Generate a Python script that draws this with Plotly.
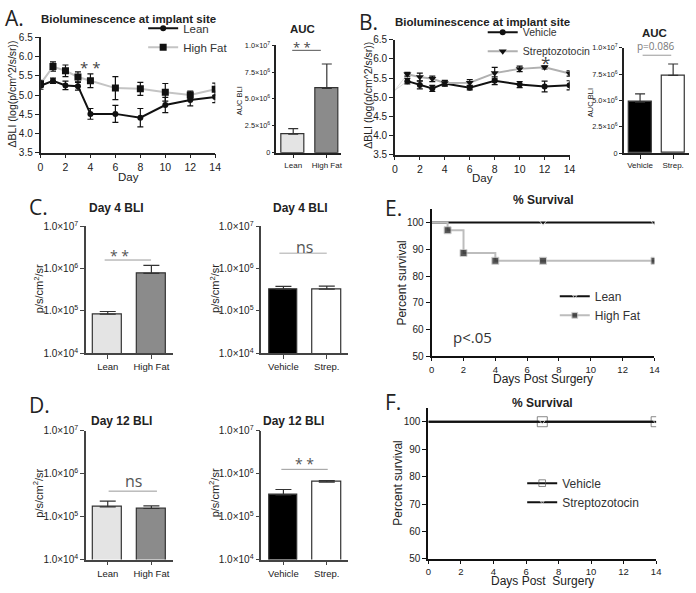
import plotly.graph_objects as go

W, H = 696, 593

# ---------------- data ----------------
days_a = [0, 1, 2, 3, 4, 6, 8, 10, 12, 14]
lean_bli = [5.24, 5.37, 5.25, 5.23, 4.51, 4.51, 4.41, 4.74, 4.87, 4.95]
lean_sem = [0.09, 0.07, 0.11, 0.10, 0.14, 0.22, 0.24, 0.20, 0.15, 0.15]
hf_bli = [5.29, 5.74, 5.63, 5.47, 5.37, 5.18, 5.16, 5.07, 5.00, 5.15]
hf_sem = [0.09, 0.12, 0.15, 0.13, 0.18, 0.30, 0.17, 0.23, 0.10, 0.16]

days_b = [1, 2, 3, 4, 6, 8, 10, 12, 14]
veh_bli = [5.42, 5.32, 5.23, 5.36, 5.25, 5.43, 5.33, 5.28, 5.31]
veh_sem = [0.07, 0.10, 0.08, 0.07, 0.06, 0.10, 0.08, 0.14, 0.12]
stz_bli = [5.60, 5.53, 5.48, 5.37, 5.38, 5.63, 5.74, 5.78, 5.62]
stz_sem = [0.05, 0.10, 0.07, 0.07, 0.08, 0.15, 0.07, 0.04, 0.07]
b_day0 = 5.18

diet_groups = ["Lean", "High Fat"]
drug_groups = ["Vehicle", "Strep."]

auc_diet = [1.73e6, 5.97e6]
auc_diet_sem = [0.52e6, 2.28e6]
auc_drug = [4.83e6, 7.37e6]
auc_drug_sem = [0.80e6, 1.09e6]

day4_diet = [8.4e4, 7.7e5]
day4_diet_sem = [1.3e4, 4.2e5]
day4_drug = [3.3e5, 3.3e5]
day4_drug_sem = [0.5e5, 0.55e5]

day12_diet = [1.69e5, 1.55e5]
day12_diet_sem = [0.61e5, 0.23e5]
day12_drug = [3.2e5, 6.4e5]
day12_drug_sem = [1.1e5, 0.5e5]

surv_lean_days = [0, 7, 14]
surv_lean = [100, 100, 100]
surv_hf_days = [0, 1, 2, 4, 7, 14]
surv_hf = [100, 97.1, 88.6, 85.7, 85.7, 85.7]
surv_veh_days = [0, 7, 14]
surv_veh = [100, 100, 100]
surv_stz_days = [0, 7, 14]
surv_stz = [100, 100, 100]

log_ticks = [1e4, 1e5, 1e6, 1e7]
log_ticktext = ["1.0×10<sup>4</sup>", "1.0×10<sup>5</sup>", "1.0×10<sup>6</sup>", "1.0×10<sup>7</sup>"]
auc_ticks = [0, 2.5e6, 5e6, 7.5e6, 1e7]
auc_ticktext = ["0", "2.5×10<sup>6</sup>", "5.0×10<sup>6</sup>", "7.5×10<sup>6</sup>", "1.0×10<sup>7</sup>"]

# colours
C_LEAN = "#e4e4e4"
C_HF = "#8b8b8b"
C_VEH = "#000000"
C_STZ = "#ffffff"

FONT = "Liberation Sans, Arial, sans-serif"
LIGHT = "Open Sans, sans-serif"


def dx(a, b):
    return [a / W, b / W]


def dy(top, bottom):
    return [1 - bottom / H, 1 - top / H]


def px(x):
    return x / W


def py(y):
    return 1 - y / H


fig = go.Figure()

err_style = dict(color="#111", thickness=1.2, width=3)

# ---------- A line ----------
fig.add_trace(go.Scatter(x=days_a, y=lean_bli, name="Lean", mode="lines+markers",
                         line=dict(color="#111", width=2),
                         marker=dict(symbol="circle", size=6, color="#111"),
                         error_y=dict(type="data", array=lean_sem, **err_style),
                         xaxis="x", yaxis="y", legend="legend"))
fig.add_trace(go.Scatter(x=days_a, y=hf_bli, name="High Fat", mode="lines+markers",
                         line=dict(color="#c4c4c4", width=2),
                         marker=dict(symbol="square", size=7, color="#111"),
                         error_y=dict(type="data", array=hf_sem, **err_style),
                         xaxis="x", yaxis="y", legend="legend"))

# ---------- B line ----------
fig.add_trace(go.Scatter(x=[0, days_b[0], None, 0, days_b[0]],
                         y=[b_day0, veh_bli[0], None, b_day0, stz_bli[0]],
                         mode="lines", line=dict(color="#dddddd", width=1),
                         showlegend=False, hoverinfo="skip", xaxis="x3", yaxis="y3"))
fig.add_trace(go.Scatter(x=days_b, y=veh_bli, name="Vehicle", mode="lines+markers",
                         line=dict(color="#111", width=2),
                         marker=dict(symbol="circle", size=6, color="#111"),
                         error_y=dict(type="data", array=veh_sem, **err_style),
                         xaxis="x3", yaxis="y3", legend="legend2"))
fig.add_trace(go.Scatter(x=days_b, y=stz_bli, name="Streptozotocin", mode="lines+markers",
                         line=dict(color="#b0b0b0", width=2),
                         marker=dict(symbol="triangle-down", size=7, color="#111"),
                         error_y=dict(type="data", array=stz_sem, **err_style),
                         xaxis="x3", yaxis="y3", legend="legend2"))

bar_line = dict(color="#333", width=1.2)
bar_err = dict(type="data", symmetric=False, color="#333", thickness=1.2)


def add_bars(groups, vals, sems, colors, xa, ya, width, errw):
    fig.add_trace(go.Bar(x=groups, y=vals, width=width,
                         marker=dict(color=colors, line=bar_line),
                         error_y=dict(array=sems, arrayminus=[0] * len(sems), width=errw, **bar_err),
                         showlegend=False, xaxis=xa, yaxis=ya))


add_bars(diet_groups, auc_diet, auc_diet_sem, [C_LEAN, C_HF], "x2", "y2", 0.68, 5)
add_bars(drug_groups, auc_drug, auc_drug_sem, [C_VEH, C_STZ], "x4", "y4", 0.69, 5)
add_bars(diet_groups, day4_diet, day4_diet_sem, [C_LEAN, C_HF], "x5", "y5", 0.66, 8)
add_bars(drug_groups, day4_drug, day4_drug_sem, [C_VEH, C_STZ], "x6", "y6", 0.66, 8)
add_bars(diet_groups, day12_diet, day12_diet_sem, [C_LEAN, C_HF], "x7", "y7", 0.66, 8)
add_bars(drug_groups, day12_drug, day12_drug_sem, [C_VEH, C_STZ], "x8", "y8", 0.66, 8)

# ---------- E survival ----------
fig.add_trace(go.Scatter(x=surv_lean_days, y=surv_lean, name="Lean", mode="lines+markers",
                         line=dict(color="#111", width=2, shape="hv"),
                         marker=dict(symbol="triangle-down", size=[0, 6, 6], color="#111"),
                         xaxis="x9", yaxis="y9", legend="legend3"))
fig.add_trace(go.Scatter(x=surv_hf_days, y=surv_hf, name="High Fat", mode="lines+markers",
                         line=dict(color="#bdbdbd", width=2, shape="hv"),
                         marker=dict(symbol="square", size=[0, 7, 7, 7, 7, 7], color="#111"),
                         xaxis="x9", yaxis="y9", legend="legend3"))

# ---------- F survival ----------
fig.add_trace(go.Scatter(x=surv_veh_days, y=surv_veh, name="Vehicle", mode="lines+markers",
                         line=dict(color="#111", width=2, shape="hv"),
                         marker=dict(symbol="square-open", size=[0, 10, 10], color="#555",
                                     line=dict(width=1)),
                         xaxis="x10", yaxis="y10", legend="legend4"))
fig.add_trace(go.Scatter(x=surv_stz_days, y=surv_stz, name="Streptozotocin", mode="lines+markers",
                         line=dict(color="#111", width=2, shape="hv"),
                         marker=dict(symbol="triangle-down", size=[0, 5, 5], color="#111"),
                         xaxis="x10", yaxis="y10", legend="legend4"))

# ---------------- axes ----------------
def axis_common(color="#222", lw=1.5, size=11, ticklen=4):
    return dict(showline=True, linecolor=color, linewidth=lw, ticks="outside",
                ticklen=ticklen, tickwidth=1.3, tickcolor=color, showgrid=False, zeroline=False,
                tickfont=dict(family=FONT, size=size, color="#222"), mirror=False, fixedrange=True)


layout_axes = {}
# A
layout_axes["xaxis"] = dict(domain=dx(38, 215), anchor="y", range=[0, 14], dtick=2, tick0=0,
                            **axis_common(size=10.5))
layout_axes["yaxis"] = dict(domain=dy(31, 149), anchor="x", range=[3.5, 6.5], dtick=0.5,
                            tickformat=".1f", **axis_common(size=10))
# AUC A
layout_axes["xaxis2"] = dict(domain=dx(277, 342), anchor="y2", range=[-0.5, 1.41],
                             type="category", **axis_common(size=8))
layout_axes["yaxis2"] = dict(domain=dy(39, 149), anchor="x2", range=[0, 1e7],
                             tickvals=auc_ticks, ticktext=auc_ticktext, **axis_common(size=7.3, ticklen=3))
# B
layout_axes["xaxis3"] = dict(domain=dx(397, 574), anchor="y3", range=[0, 14], dtick=2, tick0=0,
                             **axis_common(size=10.5))
layout_axes["yaxis3"] = dict(domain=dy(33.5, 151), anchor="x3", range=[3.5, 6.5], dtick=0.5,
                             tickformat=".1f", **axis_common(size=10))
# AUC B
layout_axes["xaxis4"] = dict(domain=dx(629, 695), anchor="y4", range=[-0.49, 1.48],
                             type="category", **axis_common(size=8))
layout_axes["yaxis4"] = dict(domain=dy(41.7, 149.3), anchor="x4", range=[0, 1e7],
                             tickvals=auc_ticks, ticktext=auc_ticktext, **axis_common(size=7.3, ticklen=3))
# C / D
for i, (xd, yd) in zip([5, 6, 7, 8], [((84, 172), (224.3, 354)), ((261.7, 350), (224.3, 354)),
                                       ((84, 172), (433.3, 565)), ((261.7, 350), (433.3, 565))]):
    rng = [-0.5, 1.49] if i in (5, 7) else [-0.51, 1.5]
    layout_axes[f"xaxis{i}"] = dict(domain=dx(*xd), anchor=f"y{i}", range=rng, type="category",
                                    **axis_common(color="#444", size=9.5))
    layout_axes[f"yaxis{i}"] = dict(domain=dy(*yd), anchor=f"x{i}", type="log", range=[4, 7],
                                    tickvals=log_ticks, ticktext=log_ticktext,
                                    **axis_common(color="#444", size=10))
# E
layout_axes["xaxis9"] = dict(domain=dx(434.3, 660), anchor="y9", range=[0, 14], dtick=2, tick0=0,
                             **axis_common(color="#111", lw=2, size=9.5, ticklen=3))
layout_axes["yaxis9"] = dict(domain=dy(206.6, 357.3), anchor="x9", range=[50, 105],
                             tickvals=[50, 60, 70, 80, 90, 100],
                             **axis_common(color="#111", lw=2, size=10))
# F
layout_axes["xaxis10"] = dict(domain=dx(431, 661.7), anchor="y10", range=[0, 14], dtick=2, tick0=0,
                              **axis_common(color="#111", lw=2, size=9.5, ticklen=3))
layout_axes["yaxis10"] = dict(domain=dy(410, 564.3), anchor="x10", range=[50, 105],
                              tickvals=[50, 60, 70, 80, 90, 100],
                              **axis_common(color="#111", lw=2, size=10))

# ---------------- annotations ----------------
ann = []


def text(x, y, s, size=12, bold=False, angle=0, family=FONT, color="#222", xanchor="center"):
    ann.append(dict(x=px(x), y=py(y), xref="paper", yref="paper", text=(f"<b>{s}</b>" if bold else s),
                    showarrow=False, textangle=angle, xanchor=xanchor, yanchor="middle",
                    font=dict(family=family, size=size, color=color)))


# panel letters
for (x, y, s) in [(12, 11, "A."), (370, 15, "B."), (36, 204, "C."), (37, 407, "D."),
                  (396, 205, "E."), (395, 404, "F.")]:
    text(x, y, s, size=21, family=LIGHT, color="#222")

# titles
text(127, 12, "Bioluminescence at implant site", 11.5, bold=True)
text(486, 15, "Bioluminescence at implant site", 11.5, bold=True)
text(303, 22, "AUC", 11.5, bold=True)
text(660, 27, "AUC", 11.5, bold=True)
text(115, 206, "Day 4 BLI", 12, bold=True)
text(301, 206, "Day 4 BLI", 12, bold=True)
text(120.5, 423, "Day 12 BLI", 12, bold=True)
text(294, 423, "Day 12 BLI", 12, bold=True)
text(548, 197, "% Survival", 12, bold=True)
text(547, 405, "% Survival", 12, bold=True)

# axis titles
text(9.5, 89, "ΔBLI (log(p/cm^2/s/sr))", 10.5, angle=-90)
text(369.5, 90, "ΔBLI (log(p/cm^2/s/sr))", 10.5, angle=-90)
text(127, 174, "Day", 11.5)
text(486, 175, "Day", 11.5)
text(239.5, 96, "AUC BLI", 7.5, angle=-90)
text(596, 98, "AUC BLI", 7.5, angle=-90)
for (x, y) in [(36, 288), (214, 288), (36, 497), (214, 497)]:
    text(x, y, "p/s/cm<sup>2</sup>/sr", 11, angle=-90)
text(404, 282, "Percent survival", 12, angle=-90)
text(400.5, 487, "Percent survival", 12, angle=-90)
text(547, 380, "Days Post Surgery", 12)
text(547, 587, "Days Post  Surgery", 12)

# significance marks
text(88, 61, "* *", 15, family=LIGHT, color="#444")
text(550, 57, "*", 17, family=LIGHT, color="#444")
text(303, 41, "* *", 13, family=LIGHT, color="#444")
text(662, 40, "p=0.086", 10, family=LIGHT, color="#777")
text(118, 254, "* *", 14, family=LIGHT, color="#555")
text(305, 245, "ns", 16, family=LIGHT, color="#555")
text(132, 485, "ns", 16, family=LIGHT, color="#555")
text(305, 467, "* *", 14, family=LIGHT, color="#555")
text(476, 337, "p&lt;.05", 15, family=LIGHT, color="#333")

shapes = []
for (x0, x1, y, c) in [(293, 322, 44.3, "#555"), (648, 677, 49.3, "#999"),
                       (103, 150, 258.7, "#999"), (280, 328, 251.7, "#aaa"),
                       (107, 156, 495, "#999"), (282, 329, 472.7, "#999")]:
    shapes.append(dict(type="line", xref="paper", yref="paper", x0=px(x0), x1=px(x1),
                       y0=py(y), y1=py(y), line=dict(color=c, width=1)))

leg_common = dict(bgcolor="rgba(0,0,0,0)", borderwidth=0, itemwidth=30,
                  xanchor="left", yanchor="top", tracegroupgap=0)


def leg_font(size):
    return dict(family=FONT, size=size, color="#333")


fig.update_layout(
    width=W, height=H, margin=dict(l=0, r=0, t=0, b=0),
    paper_bgcolor="white", plot_bgcolor="white",
    showlegend=True,
    annotations=ann, shapes=shapes,
    bargap=0,
    legend=dict(x=px(142), y=py(7), font=leg_font(11.5), **leg_common),
    legend2=dict(x=px(486), y=py(11), font=leg_font(10.5), **leg_common),
    legend3=dict(x=px(559), y=py(281), font=leg_font(12), **leg_common),
    legend4=dict(x=px(526), y=py(472), font=leg_font(12), **leg_common),
    **layout_axes,
)

fig.write_html("out.html", config={"displayModeBar": False},
               post_script="document.body.style.margin='0';document.body.style.overflow='hidden';")
